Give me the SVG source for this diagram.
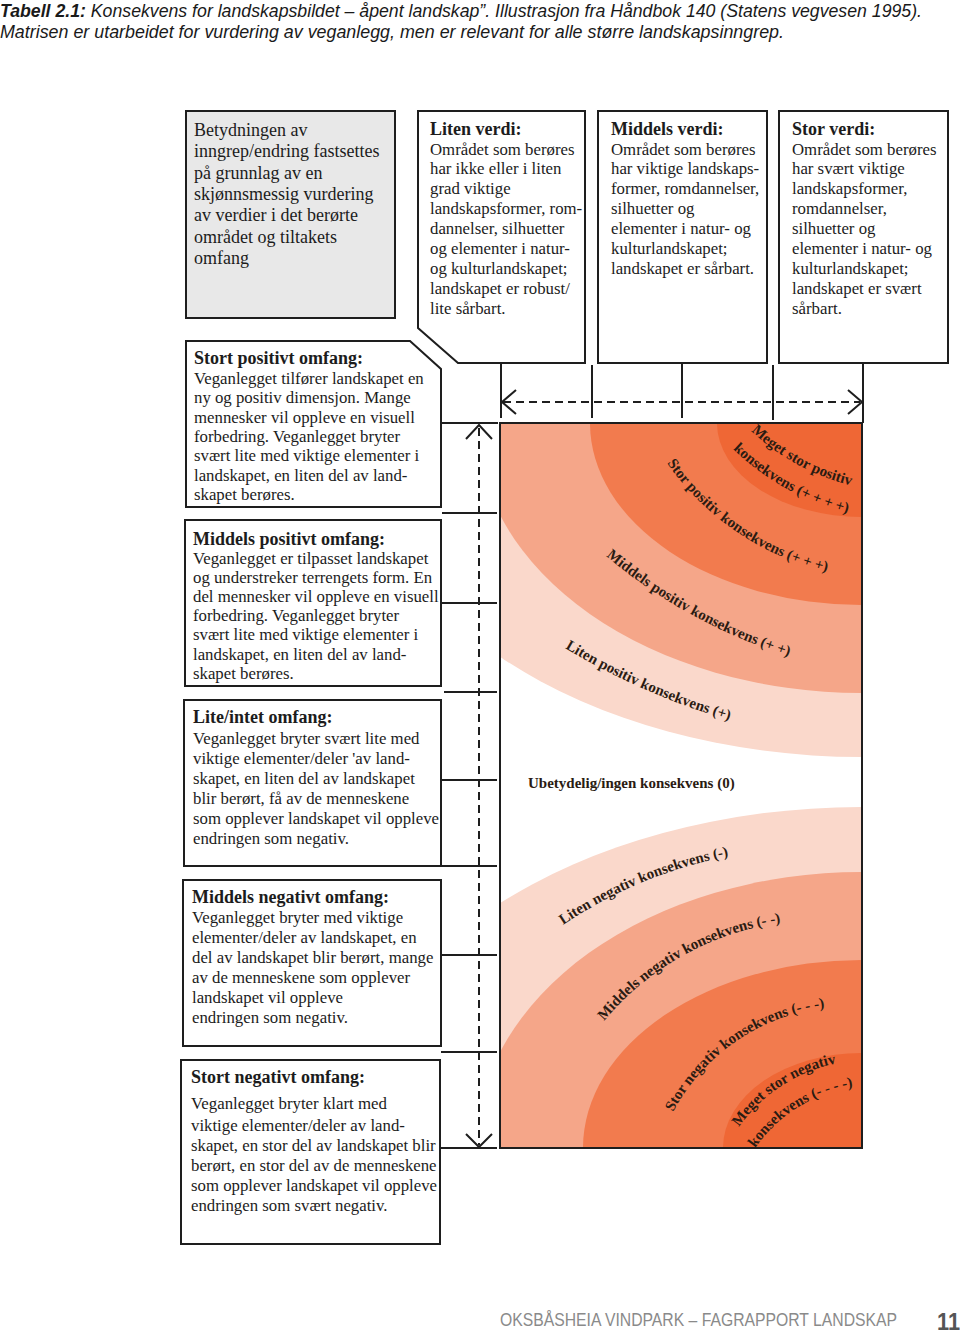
<svg xmlns="http://www.w3.org/2000/svg" width="960" height="1331" viewBox="0 0 960 1331">
<style>
.bx{fill:#fff;stroke:#1e1e1e;stroke-width:2}
.gr{fill:#e8e8e8}
.t{font-family:"Liberation Serif","Times New Roman",serif;font-size:16.8px;fill:#1c1c1c}
.tb{font-size:18px}
.h{font-weight:bold;font-size:18px}
.lbl{font-family:"Liberation Serif","Times New Roman",serif;font-weight:bold;font-size:15px;fill:#2a1b12}
.cn{stroke:#1e1e1e;stroke-width:2;fill:none}
.d{stroke-dasharray:8 5}
.hd{font-family:"Liberation Sans",Arial,sans-serif;font-style:italic;font-size:18px;fill:#1a1a1a}
</style>
<defs>
<clipPath id="mclip"><rect x="501" y="424" width="360" height="723"/></clipPath>
<path id="pA1" d="M751,431 A227.5,227.5 0 0 0 858,487 L877.6,491.2"/>
<path id="pA2" d="M733,449 A255.4,255.4 0 0 0 852,514 L871.5,518.6"/>
<path id="pA3" d="M667,463 A271.5,271.5 0 0 0 833,573 L852.6,577.2"/>
<path id="pA4" d="M606,556 A532.8,532.8 0 0 0 798,659 L817.2,664.6"/>
<path id="pA5" d="M565,648 A704,704 0 0 0 736,722 L755.2,727.4"/>
<path id="pB1" d="M563,925 A450,450 0 0 1 735,855 L754.7,851.5"/>
<path id="pB2" d="M604,1021 A282,282 0 0 1 786,922 L805.9,919.6"/>
<path id="pB3" d="M673,1112 A199,199 0 0 1 832,1007 L851.9,1005.3"/>
<path id="pB4a" d="M739,1127 A157,157 0 0 1 844,1062 L863.8,1059"/>
<path id="pB4b" d="M755,1148 A147,147 0 0 1 860,1086 L879.9,1084.1"/>
</defs>
<rect width="960" height="1331" fill="#fff"/>

<g id="caption">
<text class="hd" x="0" y="17" textLength="922" lengthAdjust="spacingAndGlyphs"><tspan font-weight="bold">Tabell 2.1:</tspan> Konsekvens for landskapsbildet – åpent landskap”. Illustrasjon fra Håndbok 140 (Statens vegvesen 1995).</text>
<text class="hd" x="0" y="38" textLength="784" lengthAdjust="spacingAndGlyphs">Matrisen er utarbeidet for vurdering av veganlegg, men er relevant for alle større landskapsinngrep.</text>
</g>

<g id="matrix">
<rect x="500" y="423" width="362" height="725" fill="#fff"/>
<g clip-path="url(#mclip)">
<ellipse cx="862" cy="423" rx="507" ry="334" fill="#fad8cb"/>
<ellipse cx="862" cy="423" rx="385" ry="270" fill="#f5a689"/>
<ellipse cx="862" cy="423" rx="272" ry="182" fill="#f27b4e"/>
<ellipse cx="862" cy="423" rx="145" ry="94" fill="#ef6735"/>
<ellipse cx="862" cy="1148" rx="520" ry="341" fill="#fad8cb"/>
<ellipse cx="862" cy="1148" rx="386" ry="276" fill="#f5a689"/>
<ellipse cx="862" cy="1148" rx="279" ry="188" fill="#f27b4e"/>
<ellipse cx="862" cy="1148" rx="139" ry="95" fill="#ef6735"/>
</g>
<rect x="500" y="423" width="362" height="725" fill="none" stroke="#1e1e1e" stroke-width="2"/>
<text class="lbl"><textPath href="#pA1">Meget stor positiv</textPath></text>
<text class="lbl"><textPath href="#pA2">konsekvens (+ + + +)</textPath></text>
<text class="lbl"><textPath href="#pA3">Stor positiv konsekvens (+ + +)</textPath></text>
<text class="lbl"><textPath href="#pA4">Middels positiv konsekvens (+ +)</textPath></text>
<text class="lbl"><textPath href="#pA5">Liten positiv konsekvens (+)</textPath></text>
<text class="lbl" x="528" y="788">Ubetydelig/ingen konsekvens (0)</text>
<text class="lbl"><textPath href="#pB1">Liten negativ konsekvens (-)</textPath></text>
<text class="lbl"><textPath href="#pB2">Middels negativ konsekvens (- -)</textPath></text>
<text class="lbl"><textPath href="#pB3">Stor negativ konsekvens (- - -)</textPath></text>
<text class="lbl"><textPath href="#pB4a">Meget stor negativ</textPath></text>
<text class="lbl"><textPath href="#pB4b">konsekvens (- - - -)</textPath></text>
</g>

<g id="connectors">
<path class="cn" d="M501,363 V418 M592,365 V418 M682,363 V418 M773,365 V420 M863,363 V423"/>
<path class="cn d" d="M503,402 H860"/>
<path class="cn" d="M516,390 L502,402 L516,414 M848,390 L862,402 L848,414"/>
<path class="cn" d="M442,423 H498 M442,513 H497 M442,603 H497 M444,692 H497 M441,780 H497 M441,866 H497 M441,955 H497 M441,1052 H497 M440,1148 H497"/>
<path class="cn d" d="M479,428 V1145"/>
<path class="cn" d="M466,439 L479,425 L492,439 M466,1134 L479,1147 L492,1134"/>
</g>

<g id="n-betydning">
<rect class="bx gr" x="186" y="111" width="209" height="207"/>
<text class="t tb"><tspan x="194" y="136">Betydningen av</tspan><tspan x="194" y="157.3">inngrep/endring fastsettes</tspan><tspan x="194" y="178.6">på grunnlag av en</tspan><tspan x="194" y="199.9">skjønnsmessig vurdering</tspan><tspan x="194" y="221.2">av verdier i det berørte</tspan><tspan x="194" y="242.5">området og tiltakets</tspan><tspan x="194" y="263.8">omfang</tspan></text>
</g>

<g id="n-liten-verdi">
<path class="bx" d="M418,111 H585 V363 H458 L418,328 Z"/>
<text class="t"><tspan class="h" x="430" y="135">Liten verdi:</tspan><tspan x="430" y="154.5">Området som berøres</tspan><tspan x="430" y="174.4">har ikke eller i liten</tspan><tspan x="430" y="194.3">grad viktige</tspan><tspan x="430" y="214.2">landskapsformer, rom-</tspan><tspan x="430" y="234.1">dannelser, silhuetter</tspan><tspan x="430" y="254">og elementer i natur-</tspan><tspan x="430" y="273.9">og kulturlandskapet;</tspan><tspan x="430" y="293.8">landskapet er robust/</tspan><tspan x="430" y="313.7">lite sårbart.</tspan></text>
</g>

<g id="n-middels-verdi">
<rect class="bx" x="598" y="111" width="169" height="252"/>
<text class="t"><tspan class="h" x="611" y="135">Middels verdi:</tspan><tspan x="611" y="154.5">Området som berøres</tspan><tspan x="611" y="174.4">har viktige landskaps-</tspan><tspan x="611" y="194.3">former, romdannelser,</tspan><tspan x="611" y="214.2">silhuetter og</tspan><tspan x="611" y="234.1">elementer i natur- og</tspan><tspan x="611" y="254">kulturlandskapet;</tspan><tspan x="611" y="273.9">landskapet er sårbart.</tspan></text>
</g>

<g id="n-stor-verdi">
<rect class="bx" x="779" y="111" width="169" height="252"/>
<text class="t"><tspan class="h" x="792" y="135">Stor verdi:</tspan><tspan x="792" y="154.5">Området som berøres</tspan><tspan x="792" y="174.4">har svært viktige</tspan><tspan x="792" y="194.3">landskapsformer,</tspan><tspan x="792" y="214.2">romdannelser,</tspan><tspan x="792" y="234.1">silhuetter og</tspan><tspan x="792" y="254">elementer i natur- og</tspan><tspan x="792" y="273.9">kulturlandskapet;</tspan><tspan x="792" y="293.8">landskapet er svært</tspan><tspan x="792" y="313.7">sårbart.</tspan></text>
</g>

<g id="n-stort-positivt">
<path class="bx" d="M186,341 H410 L441,369 V507 H186 Z"/>
<text class="t"><tspan class="h" x="194" y="364">Stort positivt omfang:</tspan><tspan x="194" y="384">Veganlegget tilfører landskapet en</tspan><tspan x="194" y="403.3">ny og positiv dimensjon. Mange</tspan><tspan x="194" y="422.6">mennesker vil oppleve en visuell</tspan><tspan x="194" y="441.9">forbedring. Veganlegget bryter</tspan><tspan x="194" y="461.2">svært lite med viktige elementer i</tspan><tspan x="194" y="480.5">landskapet, en liten del av land-</tspan><tspan x="194" y="499.8">skapet berøres.</tspan></text>
</g>

<g id="n-middels-positivt">
<rect class="bx" x="185" y="520" width="256" height="166"/>
<text class="t"><tspan class="h" x="193" y="545">Middels positivt omfang:</tspan><tspan x="193" y="563.5">Veganlegget er tilpasset landskapet</tspan><tspan x="193" y="582.7">og understreker terrengets form. En</tspan><tspan x="193" y="601.9">del mennesker vil oppleve en visuell</tspan><tspan x="193" y="621.1">forbedring. Veganlegget bryter</tspan><tspan x="193" y="640.3">svært lite med viktige elementer i</tspan><tspan x="193" y="659.5">landskapet, en liten del av land-</tspan><tspan x="193" y="678.7">skapet berøres.</tspan></text>
</g>

<g id="n-lite-intet">
<rect class="bx" x="184" y="700" width="257" height="166"/>
<text class="t"><tspan class="h" x="193" y="723">Lite/intet omfang:</tspan><tspan x="193" y="743.5">Veganlegget bryter svært lite med</tspan><tspan x="193" y="763.5">viktige elementer/deler 'av land-</tspan><tspan x="193" y="783.5">skapet, en liten del av landskapet</tspan><tspan x="193" y="803.5">blir berørt, få av de menneskene</tspan><tspan x="193" y="823.5">som opplever landskapet vil oppleve</tspan><tspan x="193" y="843.5">endringen som negativ.</tspan></text>
</g>

<g id="n-middels-negativt">
<rect class="bx" x="183" y="880" width="258" height="166"/>
<text class="t"><tspan class="h" x="192" y="903">Middels negativt omfang:</tspan><tspan x="192" y="922.5">Veganlegget bryter med viktige</tspan><tspan x="192" y="942.6">elementer/deler av landskapet, en</tspan><tspan x="192" y="962.7">del av landskapet blir berørt, mange</tspan><tspan x="192" y="982.8">av de menneskene som opplever</tspan><tspan x="192" y="1002.9">landskapet vil oppleve</tspan><tspan x="192" y="1023">endringen som negativ.</tspan></text>
</g>

<g id="n-stort-negativt">
<rect class="bx" x="181" y="1060" width="259" height="184"/>
<text class="t"><tspan class="h" x="191" y="1083">Stort negativt omfang:</tspan></text>
<text class="t" x="191" y="1109" font-size="21" textLength="196" lengthAdjust="spacingAndGlyphs">Veganlegget bryter klart med</text>
<text class="t"><tspan x="191" y="1130.5">viktige elementer/deler av land-</tspan><tspan x="191" y="1150.7">skapet, en stor del av landskapet blir</tspan><tspan x="191" y="1170.9">berørt, en stor del av de menneskene</tspan><tspan x="191" y="1191.1">som opplever landskapet vil oppleve</tspan><tspan x="191" y="1211.3">endringen som svært negativ.</tspan></text>
</g>

<g id="footer">
<text x="500" y="1326" font-family="Liberation Sans,Arial,sans-serif" font-size="18" fill="#8a8a8a" textLength="397" lengthAdjust="spacingAndGlyphs">OKSBÅSHEIA VINDPARK – FAGRAPPORT LANDSKAP</text>
<text x="937" y="1330" font-family="Liberation Sans,Arial,sans-serif" font-size="24" font-weight="bold" fill="#555" textLength="23" lengthAdjust="spacingAndGlyphs">11</text>
</g>
</svg>
